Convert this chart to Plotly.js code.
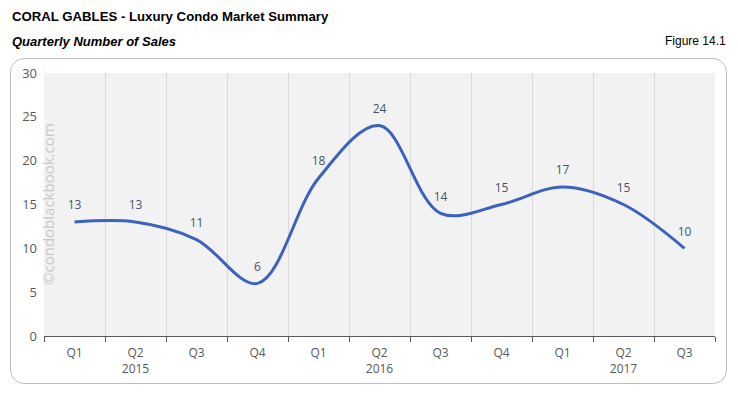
<!DOCTYPE html>
<html>
<head>
<meta charset="utf-8">
<script src="https://cdn.plot.ly/plotly-3.0.1.min.js"></script>
<style>
  html, body { margin:0; padding:0; background:#ffffff; }
  #wrap { position:relative; width:738px; height:395px; }
  #box { position:absolute; left:10px; top:58px; width:717px; height:326px; border:1px solid #bfbfbf; border-radius:14px; box-sizing:border-box; }
  #chart { position:absolute; left:0; top:0; width:738px; height:395px; }
</style>
</head>
<body>
<div id="wrap">
  <div id="box"></div>
  <div id="chart"></div>
</div>
<script>
const quarters = ["Q1","Q2","Q3","Q4","Q1","Q2","Q3","Q4","Q1","Q2","Q3"];
const years    = ["",  "2015","","",  "",  "2016","","",  "",  "2017",""];
const sales    = [13, 13, 11, 6, 18, 24, 14, 15, 17, 15, 10];
const yTicks   = [0, 5, 10, 15, 20, 25, 30];

const idx = quarters.map((q, i) => i);
const tickText = quarters.map((q, i) => years[i] ? q + "<br>" + years[i] : q);
const boundaries = [];
for (let i = 0; i <= quarters.length; i++) boundaries.push(i - 0.5);

const trace = {
  x: idx,
  y: sales,
  type: "scatter",
  mode: "lines+markers+text",
  line: { shape: "spline", smoothing: 1, color: "#3a62be", width: 3 },
  marker: { size: 14, color: "rgba(0,0,0,0)" },
  text: sales.map(String),
  textposition: "top center",
  textfont: { family: "Open Sans, Noto Sans, sans-serif", size: 12, color: "#44546a" },
  hoverinfo: "skip",
  cliponaxis: false
};

const layout = {
  width: 738, height: 395,
  margin: { l: 44, r: 23, t: 73, b: 59 },
  paper_bgcolor: "rgba(0,0,0,0)",
  plot_bgcolor: "#f2f2f2",
  showlegend: false,
  font: { family: "Open Sans, Noto Sans, sans-serif", color: "#595959", size: 12 },
  xaxis: {
    range: [-0.5, quarters.length - 0.5],
    tickmode: "array",
    tickvals: idx,
    ticktext: tickText,
    ticks: "outside", ticklen: 6, tickcolor: "rgba(0,0,0,0)",
    showgrid: false,
    zeroline: false,
    showline: true, linecolor: "#595959", linewidth: 1,
    tickfont: { size: 12, color: "#595959" },
    minor: {
      tickmode: "array",
      tickvals: boundaries,
      showgrid: true, gridcolor: "#d9d9d9", gridwidth: 1,
      ticks: "outside", ticklen: 5, tickcolor: "#595959"
    },
    fixedrange: true
  },
  yaxis: {
    range: [0, 30],
    tickmode: "array",
    tickvals: yTicks,
    showgrid: false,
    zeroline: false,
    showline: false,
    ticks: "",
    ticklabelstandoff: 6,
    tickfont: { size: 13, color: "#595959" },
    fixedrange: true
  },
  annotations: [
    { text: "<b>CORAL GABLES - Luxury Condo Market Summary</b>", xref: "paper", yref: "paper",
      x: -0.05, y: (336 - 17) / 263, xanchor: "left", yanchor: "middle", showarrow: false,
      font: { family: "Liberation Sans, Arial, sans-serif", size: 13.2, color: "#000000" } },
    { text: "<b><i>Quarterly Number of Sales</i></b>", xref: "paper", yref: "paper",
      x: -0.05, y: (336 - 41) / 263, xanchor: "left", yanchor: "middle", showarrow: false,
      font: { family: "Liberation Sans, Arial, sans-serif", size: 13, color: "#000000" } },
    { text: "Figure 14.1", xref: "paper", yref: "paper",
      x: (728 - 44) / 671, y: (336 - 41) / 263, xanchor: "right", yanchor: "middle", showarrow: false,
      font: { family: "Liberation Sans, Arial, sans-serif", size: 12, color: "#000000" } },
    { text: "©condoblackbook.com", xref: "paper", yref: "paper",
      x: (48 - 44) / 671, y: (336 - 204) / 263, xanchor: "center", yanchor: "middle", showarrow: false,
      textangle: -90,
      font: { family: "Open Sans, Noto Sans, sans-serif", size: 15, color: "#c9c9c9" } }
  ]
};

Plotly.newPlot("chart", [trace], layout, { displayModeBar: false, staticPlot: true });
</script>
</body>
</html>
